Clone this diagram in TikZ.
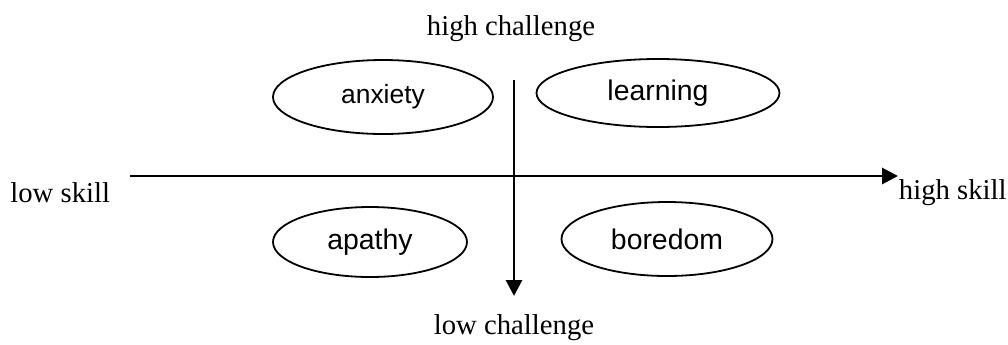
\documentclass[tikz,border=0pt]{standalone}
\usepackage{fontspec}
\setmainfont{Liberation Serif}
\setsansfont{Liberation Sans}
\usetikzlibrary{shapes.geometric,arrows.meta}
\begin{document}
\begin{tikzpicture}[x=0.5pt,y=-0.5pt,
  state/.style={ellipse,draw,line width=0.9pt,inner sep=0pt,font=\sffamily\fontsize{14.2}{16}\selectfont},
  axislabel/.style={font=\fontsize{14.35}{17}\selectfont,inner sep=0pt},
  axis/.style={line width=1.45pt,-{Triangle[length=8pt,width=8pt]}}]
\useasboundingbox (0,0) rectangle (1008,344);
% axes
\coordinate (xl) at (130,176);
\coordinate (xr) at (898,176);
\coordinate (yt) at (514,80);
\coordinate (yb) at (514,296);
\draw[axis] (xl) -- (xr);
\draw[axis] (yt) -- (yb);
% states
\node[state,minimum width=110pt,minimum height=37pt,font=\sffamily\fontsize{13.2}{15}\selectfont] (anx) at (383,97) {anxiety};
\node[state,minimum width=121.5pt,minimum height=34pt] (lea) at (658,93) {learning};
\node[state,minimum width=97pt,minimum height=35pt] (apa) at (370,242) {apathy};
\node[state,minimum width=105.5pt,minimum height=37pt] (bor) at (667,239) {boredom};
% axis labels
\node[axislabel] (hc) at (511,29) {high challenge};
\node[axislabel] (lc) at (514,328) {low challenge};
\node[axislabel,anchor=west] (ls) at (10,193) {low skill};
\node[axislabel,anchor=east] (hs) at (1007,193) {high skill};
\end{tikzpicture}
\end{document}
